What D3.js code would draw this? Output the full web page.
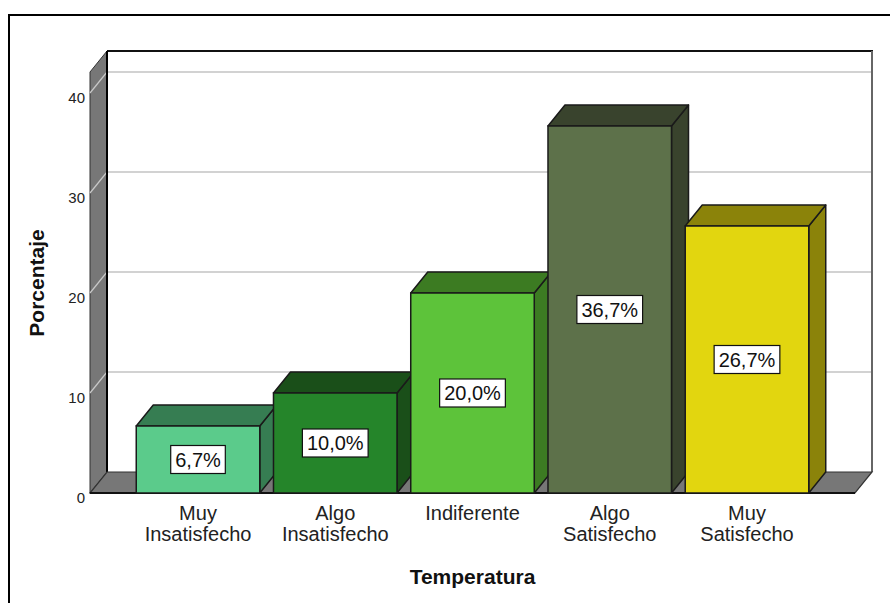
<!DOCTYPE html>
<html>
<head>
<meta charset="utf-8">
<script src="https://cdn.jsdelivr.net/npm/d3@7"></script>
<style>
  html, body { margin: 0; padding: 0; background: #fff; }
  svg { display: block; font-family: "Liberation Sans", Arial, sans-serif; }
</style>
</head>
<body>
<svg id="chart" width="890" height="603"></svg>
<script>
// Survey results: satisfaction with temperature (percent of respondents)
const categories = ["Muy Insatisfecho", "Algo Insatisfecho", "Indiferente", "Algo Satisfecho", "Muy Satisfecho"];
const percentages = [6.7, 10.0, 20.0, 36.7, 26.7];
const yTicks = [0, 10, 20, 30, 40];
const frontColors = ["#5bcb8b", "#25852a", "#5dc33a", "#5d714a", "#e2d60f"];
const shadeColors = ["#367d52", "#1a4f19", "#3c7b22", "#39432d", "#8b830a"];
const xTitle = "Temperatura";
const yTitle = "Porcentaje";

const svg = d3.select("#chart");

// Front plane of the 3D box and the depth offset towards the back wall
const front = { left: 90, right: 855, bottom: 493, top: 72 };
const depth = { dx: 17, dy: -21 };

const x = d3.scaleBand()
  .domain(categories)
  .range([front.left, front.right])
  .paddingInner(0.1)
  .paddingOuter(0.337);

const y = d3.scaleLinear()
  .domain([0, 42.1])
  .range([front.bottom, front.top]);

const fmt = v => d3.format(".1f")(v).replace(".", ",") + "%";
const pts = arr => arr.map(p => p.join(",")).join(" ");

// Outer frame
svg.append("rect")
  .attr("x", 9).attr("y", 15)
  .attr("width", 900).attr("height", 620)
  .attr("fill", "none").attr("stroke", "#000").attr("stroke-width", 2);

const yMax = y.domain()[1];
const bx0 = front.left + depth.dx, bx1 = front.right + depth.dx;

// Back wall
svg.append("rect")
  .attr("x", bx0).attr("y", y(yMax) + depth.dy)
  .attr("width", bx1 - bx0).attr("height", y(0) - y(yMax))
  .attr("fill", "#fff");

// Gridlines on the back wall
svg.append("g").selectAll("line")
  .data(yTicks.filter(t => t > 0))
  .join("line")
  .attr("x1", bx0).attr("x2", bx1)
  .attr("y1", d => y(d) + depth.dy).attr("y2", d => y(d) + depth.dy)
  .attr("stroke", "#d2d2d2").attr("stroke-width", 2);

// Back wall top edge and right edge
svg.append("line")
  .attr("x1", bx0).attr("x2", bx1 + 1)
  .attr("y1", y(yMax) + depth.dy).attr("y2", y(yMax) + depth.dy)
  .attr("stroke", "#111").attr("stroke-width", 2);
svg.append("line")
  .attr("x1", bx1).attr("x2", bx1)
  .attr("y1", y(yMax) + depth.dy).attr("y2", y(0) + depth.dy)
  .attr("stroke", "#666").attr("stroke-width", 2);

// Left side wall
svg.append("polygon")
  .attr("points", pts([
    [front.left, y(yMax)], [bx0, y(yMax) + depth.dy],
    [bx0, y(0) + depth.dy], [front.left, y(0)]
  ]))
  .attr("fill", "#777").attr("stroke", "#333").attr("stroke-width", 1);

// Gridlines across the side wall
svg.append("g").selectAll("line")
  .data(yTicks.filter(t => t > 0))
  .join("line")
  .attr("x1", front.left).attr("x2", bx0)
  .attr("y1", d => y(d)).attr("y2", d => y(d) + depth.dy)
  .attr("stroke", "#c8c8c8").attr("stroke-width", 1.2);

svg.append("line")
  .attr("x1", bx0).attr("x2", bx0)
  .attr("y1", y(yMax) + depth.dy).attr("y2", y(0) + depth.dy)
  .attr("stroke", "#000").attr("stroke-width", 2);

// Floor
svg.append("polygon")
  .attr("points", pts([
    [front.left, y(0)], [bx0, y(0) + depth.dy],
    [bx1, y(0) + depth.dy], [front.right, y(0)]
  ]))
  .attr("fill", "#777").attr("stroke", "#333").attr("stroke-width", 1.2);
svg.append("line")
  .attr("x1", front.left).attr("x2", front.right)
  .attr("y1", y(0)).attr("y2", y(0))
  .attr("stroke", "#111").attr("stroke-width", 2);

// Bars: front face, top face and right side face
const bars = svg.append("g").selectAll("g")
  .data(categories.map((c, i) => ({ c, v: percentages[i], i })))
  .join("g");

const edge = { stroke: "#1a1a1a", "stroke-width": 1.5, "stroke-linejoin": "round" };

bars.append("polygon")
  .attr("points", d => {
    const x0 = x(d.c), x1 = x(d.c) + x.bandwidth();
    return pts([[x1, y(d.v)], [x1 + depth.dx, y(d.v) + depth.dy],
                [x1 + depth.dx, y(0) + depth.dy], [x1, y(0)]]);
  })
  .attr("fill", d => shadeColors[d.i])
  .attr("stroke", edge.stroke).attr("stroke-width", edge["stroke-width"])
  .attr("stroke-linejoin", edge["stroke-linejoin"]);

bars.append("polygon")
  .attr("points", d => {
    const x0 = x(d.c), x1 = x(d.c) + x.bandwidth();
    return pts([[x0, y(d.v)], [x0 + depth.dx, y(d.v) + depth.dy],
                [x1 + depth.dx, y(d.v) + depth.dy], [x1, y(d.v)]]);
  })
  .attr("fill", d => shadeColors[d.i])
  .attr("stroke", edge.stroke).attr("stroke-width", edge["stroke-width"])
  .attr("stroke-linejoin", edge["stroke-linejoin"]);

bars.append("rect")
  .attr("x", d => x(d.c))
  .attr("y", d => y(d.v))
  .attr("width", x.bandwidth())
  .attr("height", d => y(0) - y(d.v))
  .attr("fill", d => frontColors[d.i])
  .attr("stroke", edge.stroke).attr("stroke-width", edge["stroke-width"]);

// Value labels in white boxes at the middle of each front face
bars.each(function (d) {
  const g = d3.select(this);
  const cx = x(d.c) + x.bandwidth() / 2;
  const cy = (y(d.v) + y(0)) / 2;
  const t = g.append("text")
    .attr("x", cx).attr("y", cy)
    .attr("text-anchor", "middle")
    .attr("dominant-baseline", "central")
    .attr("font-size", 20)
    .attr("fill", "#111")
    .text(fmt(d.v));
  const w = t.node().getComputedTextLength() + 9;
  g.insert("rect", "text")
    .attr("x", cx - w / 2).attr("y", cy - 14)
    .attr("width", w).attr("height", 28)
    .attr("fill", "#fff").attr("stroke", "#111").attr("stroke-width", 1.2);
});

// Y axis tick labels
const yAxis = svg.append("g")
  .attr("transform", `translate(${front.left},0)`)
  .call(d3.axisLeft(y).tickValues(yTicks).tickSize(0).tickPadding(5).tickFormat(d3.format("d")));
yAxis.select(".domain").remove();
yAxis.selectAll("text")
  .attr("font-size", 15)
  .attr("font-family", "Liberation Sans, Arial, sans-serif")
  .attr("fill", "#222")
  .attr("dy", "0.62em");

// Category labels under each bar
svg.append("g").selectAll("text")
  .data(categories)
  .join("text")
  .attr("text-anchor", "middle")
  .attr("font-size", 20)
  .attr("fill", "#222")
  .attr("transform", c => `translate(${x(c) + x.bandwidth() / 2},519.5)`)
  .each(function (c) {
    const words = c.split(" ");
    d3.select(this).selectAll("tspan")
      .data(words)
      .join("tspan")
      .attr("x", 0)
      .attr("dy", (w, i) => i === 0 ? 0 : 21)
      .text(w => w);
  });

// Axis titles
svg.append("text")
  .attr("x", (front.left + front.right) / 2).attr("y", 583.5)
  .attr("text-anchor", "middle")
  .attr("font-size", 21).attr("font-weight", "bold")
  .attr("fill", "#111")
  .text(xTitle);

svg.append("text")
  .attr("transform", "translate(44,283) rotate(-90)")
  .attr("text-anchor", "middle")
  .attr("font-size", 21).attr("font-weight", "bold")
  .attr("fill", "#111")
  .text(yTitle);
</script>
</body>
</html>
